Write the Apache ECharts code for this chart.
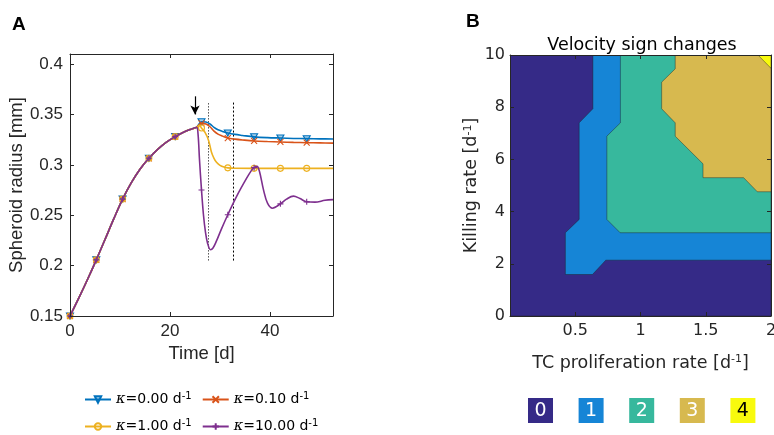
<!DOCTYPE html>
<html><head><meta charset="utf-8">
<script src="https://cdn.jsdelivr.net/npm/echarts@6/dist/echarts.min.js"></script>
<style>html,body{margin:0;padding:0;background:#fff}#c{width:774px;height:435px}</style>
</head><body><div id="c"></div>
<script>
// ---------- Panel A data ----------
const markerT = [0, 5.26, 10.52, 15.78, 21.04, 26.3, 31.56, 36.82, 42.08, 47.34];
const tGrow = [0, 1.75, 3.5, 5.26, 7, 8.77, 10.52, 12.27, 14.03, 15.78, 17.53, 19.29, 21.04, 22.5, 24, 25.3];
const rGrow = [0.150, 0.1677, 0.1862, 0.2057, 0.2259, 0.2466, 0.266, 0.2823, 0.2959, 0.3065, 0.3153, 0.3225, 0.328, 0.3318, 0.335, 0.3372];

const tK0 = [26.3, 27.2, 28, 28.8, 29.6, 30.5, 31.56, 33, 34.5, 36.82, 39.5, 42.08, 44.7, 47.34, 50, 52.6];
const rK0 = [0.3428, 0.3425, 0.3405, 0.3372, 0.3348, 0.3332, 0.3316, 0.3302, 0.3292, 0.3278, 0.327, 0.3266, 0.3262, 0.326, 0.3258, 0.3257];

const tK01 = [26.3, 27.2, 28, 28.8, 29.6, 30.5, 31.56, 33, 34.5, 36.82, 39.5, 42.08, 44.7, 47.34, 50, 52.6];
const rK01 = [0.3412, 0.3405, 0.3378, 0.3335, 0.3305, 0.3285, 0.3266, 0.3255, 0.3247, 0.3237, 0.3231, 0.3227, 0.3223, 0.322, 0.3218, 0.3216];

const tK1 = [25.9, 26.3, 27, 27.7, 28.3, 28.8, 29.3, 30, 30.8, 31.56, 33, 36.82, 42.08, 47.34, 52.6];
const rK1 = [0.3392, 0.3365, 0.3322, 0.3245, 0.3125, 0.3065, 0.3025, 0.2995, 0.2978, 0.297, 0.2966, 0.2965, 0.2965, 0.2965, 0.2965];

const tK10 = [25.6, 25.9, 26.3, 26.7, 27.1, 27.5, 28.1, 28.6, 29.3, 30.3, 31.56, 33.3, 35.3, 36.3, 36.82, 37.4, 37.9, 38.7, 39.5, 40.5, 42.08, 43.3, 44.7, 46, 47.34, 49, 51, 52.6];
const rK10 = [0.331, 0.305, 0.275, 0.250, 0.233, 0.2225, 0.2158, 0.2175, 0.2245, 0.2365, 0.2505, 0.2685, 0.2865, 0.2945, 0.2972, 0.2985, 0.2934, 0.2752, 0.262, 0.257, 0.2613, 0.266, 0.269, 0.2665, 0.2633, 0.263, 0.2648, 0.2655];

const kappaNames = ['0.00', '0.10', '1.00', '10.00'];
const seriesColors = ['#0072BD', '#D95319', '#EDB120', '#7E2F8E'];
const markerFills = ['rgba(0,114,189,0.35)', 'rgba(0,0,0,0)', 'rgba(0,0,0,0)', 'rgba(0,0,0,0)'];

const guideT = [27.7, 32.7];
const guideR = [0.205, 0.362];
const arrowT = 25;
const arrowR = [0.368, 0.350];

// ---------- Panel B data ----------
const levelLabels = ['0', '1', '2', '3', '4'];
const levelColors = ['#352a87', '#1685d6', '#37b89d', '#d7b94f', '#f8fa0d'];
const region0 = [[0, 0], [2, 0], [2, 10], [0, 10]];
const region1 = [[0.635, 10], [0.635, 7.94], [0.53, 7.40], [0.53, 3.70], [0.424, 3.19], [0.424, 1.59], [0.632, 1.59], [0.734, 2.14], [2, 2.14], [2, 10]];
const region2 = [[0.846, 10], [0.846, 7.40], [0.742, 6.89], [0.742, 3.70], [0.844, 3.19], [2, 3.19], [2, 10]];
const region3 = [[1.266, 10], [1.266, 9.47], [1.162, 8.96], [1.162, 7.94], [1.266, 7.40], [1.266, 6.89], [1.479, 5.83], [1.479, 5.30], [1.790, 5.30], [1.895, 4.76], [2, 4.76], [2, 10]];
const region4 = [[1.9, 10], [2, 9.49], [2, 10]];
const regions = [region0, region1, region2, region3, region4];

// ---------- build ----------
const FA = 'Liberation Sans, Arial, sans-serif';
const FB = 'DejaVu Sans, sans-serif';
const AX = '#262626';

function buildData(ts, vs) {
  const T = tGrow.concat(ts), V = rGrow.concat(vs);
  return T.map((t, i) => markerT.some(m => Math.abs(m - t) < 1e-6) ? [t, V[i]] : { value: [t, V[i]], symbol: 'none' });
}
const symbols = [
  'triangle',
  'path://M0,0L10,10M10,0L0,10',
  'circle',
  'path://M5,0L5,10M0,5L10,5'
];
const curves = [[tK0, rK0], [tK01, rK01], [tK1, rK1], [tK10, rK10]];

const lineSeries = curves.map((c, i) => ({
  type: 'line', name: kappaNames[i], xAxisIndex: 0, yAxisIndex: 0,
  data: buildData(c[0], c[1]),
  smooth: 0.35,
  showSymbol: true, showAllSymbol: true,
  symbol: symbols[i], symbolSize: i === 0 ? [7, 6] : 6, symbolRotate: i === 0 ? 180 : 0,
  color: seriesColors[i],
  lineStyle: { color: seriesColors[i], width: 1.6 },
  itemStyle: { color: markerFills[i], borderColor: seriesColors[i], borderWidth: 1.1 },
  emphasis: { disabled: true }, z: 3 + i
}));

const guideSeries = guideT.map((t, i) => ({
  type: 'line', xAxisIndex: 0, yAxisIndex: 0, silent: true, symbol: 'none',
  data: [[t, guideR[0]], [t, guideR[1]]],
  lineStyle: { color: i === 0 ? '#555' : '#000', width: 1, type: i === 0 ? [1.5, 1.5] : [2, 2] },
  z: 2
}));

const arrowSeries = {
  type: 'line', xAxisIndex: 0, yAxisIndex: 0, data: [], silent: true,
  markLine: {
    silent: true, symbol: ['none', 'arrow'], symbolSize: [7, 9], label: { show: false },
    lineStyle: { color: '#000', width: 1.2, type: 'solid' },
    data: [[{ coord: [arrowT, arrowR[0]] }, { coord: [arrowT, arrowR[1]] }]]
  }
};

const contourSeries = {
  type: 'custom', xAxisIndex: 2, yAxisIndex: 2, coordinateSystem: 'cartesian2d',
  data: levelLabels.map((l, i) => [0, 0, i]),
  renderItem: (params, api) => {
    const pts = regions[params.dataIndex].map(p => api.coord(p));
    return { type: 'polygon', shape: { points: pts },
      style: { fill: levelColors[params.dataIndex], stroke: 'rgba(30,30,30,0.6)', lineWidth: 0.7 } };
  },
  clip: true, silent: true, z: 1
};

function mkX(grid, min, max, interval, pos, show, fmt, font, showMax, margin, extra) {
  return Object.assign({
    type: 'value', gridIndex: grid, min, max, interval, position: pos, z: 10,
    axisLine: { show: true, onZero: false, lineStyle: { color: AX, width: 1 } },
    axisTick: { show: true, inside: true, length: 4, lineStyle: { color: AX } },
    axisLabel: { show: show, color: AX, fontSize: font[1], fontFamily: font[0], margin: margin, formatter: fmt, showMaxLabel: showMax, showMinLabel: true },
    splitLine: { show: false }
  }, extra || {});
}

const legendText = {
  fontFamily: FB, fontSize: 14, color: '#000',
  rich: {
    k: { fontFamily: 'DejaVu Serif', fontStyle: 'italic', fontSize: 14.5, color: '#000' },
    s: { fontFamily: FB, fontSize: 10, color: '#000', verticalAlign: 'top', padding: [0, 0, 7, 0] }
  }
};
const legendFmt = n => '{k|κ}=' + n + ' d{s|-1}';
const supRich = { s: { fontFamily: FB, fontSize: 11, color: AX, verticalAlign: 'top', padding: [0, 0, 8, 0] } };

const option = {
  animation: false,
  backgroundColor: '#fff',
  grid: [
    { left: 70, top: 54, width: 263, height: 262, outerBoundsMode: 'none', containLabel: false },
    { left: 510, top: 55, width: 261, height: 261, outerBoundsMode: 'none', containLabel: false }
  ],
  xAxis: [
    mkX(0, 0, 52.6, 20, 'bottom', true, v => String(Math.round(v)), [FA, 17], false, 7, {
      name: 'Time [d]', nameLocation: 'middle', nameGap: 28,
      nameTextStyle: { fontFamily: FA, fontSize: 18.5, color: AX }
    }),
    mkX(0, 0, 52.6, 20, 'top', false, null, [FA, 17], false, 7),
    mkX(1, 0, 2, 0.5, 'bottom', true, v => v === 0 ? '' : String(+v.toFixed(1)), [FB, 16], true, 7, {
      name: 'TC proliferation rate [d{s|-1}]', nameLocation: 'middle', nameGap: 38,
      nameTextStyle: { fontFamily: FB, fontSize: 17.5, color: AX, rich: supRich }
    }),
    mkX(1, 0, 2, 0.5, 'top', false, null, [FB, 16], true, 7)
  ],
  yAxis: [
    mkX(0, 0.15, 0.41, 0.05, 'left', true, v => String(+v.toFixed(2)), [FA, 17], false, 7, {
      name: 'Spheroid radius [mm]', nameLocation: 'middle', nameGap: 40,
      nameTextStyle: { fontFamily: FA, fontSize: 18.5, color: AX }
    }),
    mkX(0, 0.15, 0.41, 0.05, 'right', false, null, [FA, 17], false, 7),
    mkX(1, 0, 10, 2, 'left', true, v => String(Math.round(v)), [FB, 16], true, 5, {
      name: 'Killing rate [d{s|-1}]', nameLocation: 'middle', nameGap: 26,
      nameTextStyle: { fontFamily: FB, fontSize: 17.5, color: AX, rich: supRich }
    }),
    mkX(1, 0, 10, 2, 'right', false, null, [FB, 16], true, 5)
  ],
  legend: [
    { data: kappaNames.slice(0, 2), left: 84, top: 391, padding: 0, itemWidth: 26, itemHeight: 8, itemGap: 10, formatter: legendFmt, textStyle: legendText, selectedMode: false },
    { data: kappaNames.slice(2, 4), left: 84, top: 418, padding: 0, itemWidth: 26, itemHeight: 8, itemGap: 10, formatter: legendFmt, textStyle: legendText, selectedMode: false }
  ],
  graphic: [
    { type: 'text', style: { text: 'A', x: 12, y: 25, font: 'bold 19px ' + FA, fill: '#000', textVerticalAlign: 'middle' } },
    { type: 'text', style: { text: 'B', x: 466, y: 22, font: 'bold 19px ' + FA, fill: '#000', textVerticalAlign: 'middle' } },
    { type: 'text', style: { text: 'Velocity sign changes', x: 642, y: 45, font: '17.5px ' + FB, fill: '#000', textAlign: 'center', textVerticalAlign: 'middle' } }
  ].concat(levelLabels.map((l, i) => ({
    type: 'group', left: 528 + i * 50.6, top: 398,
    children: [
      { type: 'rect', shape: { x: 0, y: 0, width: 25, height: 25 }, style: { fill: levelColors[i] } },
      { type: 'text', style: { text: l, x: 12.5, y: 13, font: '19px ' + FB, fill: i === 4 ? '#000' : '#fff', textAlign: 'center', textVerticalAlign: 'middle' } }
    ]
  }))),
  series: [contourSeries].concat(guideSeries, [arrowSeries], lineSeries)
};

const chart = echarts.init(document.getElementById('c'), null, { renderer: 'canvas' });
chart.setOption(option);
</script></body></html>
